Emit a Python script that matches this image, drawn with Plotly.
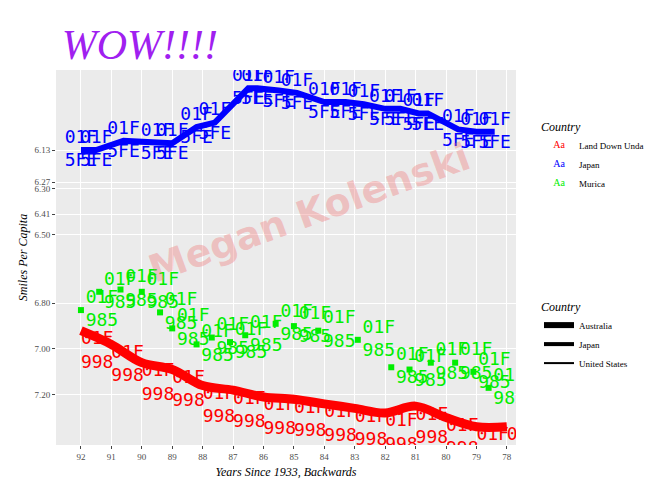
import plotly.graph_objects as go

years_jp = [92, 91.5, 90.6, 89.5, 89, 88.2, 87.6, 86.5, 86.2, 85.5, 84.9, 84, 83.3, 82.7, 82, 81.5, 80.9, 80.6, 79.6, 79, 78.4]
japan = [6.13, 6.13, 6.09, 6.10, 6.10, 6.03, 6.01, 5.86, 5.86, 5.87, 5.88, 5.92, 5.92, 5.93, 5.95, 5.95, 5.97, 5.97, 6.04, 6.05, 6.05]
years_au = [92, 91, 90, 89, 88, 87, 86, 85, 84, 83, 82, 81, 80, 79, 78]
aus = [6.92, 6.98, 7.06, 7.09, 7.16, 7.18, 7.21, 7.22, 7.24, 7.26, 7.28, 7.25, 7.30, 7.34, 7.34]
years_us = [92, 91.4, 90.7, 90, 89.4, 89, 88.2, 87.7, 87.1, 86.6, 85.6, 85, 84.2, 82.9, 81.8, 81.2, 80.5, 79.7, 79.1, 78.6]
usa = [6.83, 6.75, 6.74, 6.75, 6.84, 6.91, 6.98, 6.95, 6.97, 6.94, 6.89, 6.90, 6.92, 6.96, 7.08, 7.09, 7.06, 7.06, 7.10, 7.17]
y_ticks = [6.13, 6.27, 6.30, 6.41, 6.50, 6.80, 7.00, 7.20]
x_ticks = list(range(78, 93))

font = "Liberation Serif"
mono = "DejaVu Sans Mono"
fig = go.Figure()
fig.add_trace(go.Scatter(x=years_jp, y=japan, mode="lines+text", line=dict(color="#0000FF", width=6),
                         text=["01F<br>5FE"] * len(japan), textfont=dict(family=mono, size=18, color="#0000FF"),
                         textposition="middle center", showlegend=False))
fig.add_trace(go.Scatter(x=years_us, y=usa, mode="markers+text", marker=dict(color="#00EE00", size=6, symbol="square"),
                         text=["01F<br>985"] * len(usa), textfont=dict(family=mono, size=18, color="#00EE00"),
                         textposition="middle right", showlegend=False))
fig.add_trace(go.Scatter(x=years_au, y=aus, mode="lines+text", line=dict(color="#FF0000", width=9, shape="spline"),
                         text=["01F<br>998"] * len(aus), textfont=dict(family=mono, size=18, color="#FF0000"),
                         textposition="bottom right", showlegend=False))
for name, c in [("Land Down Unda", "#FF0000"), ("Japan", "#0000FF"), ("Murica", "#00EE00")]:
    fig.add_trace(go.Scatter(x=[None], y=[None], mode="text", text=["a"], textfont=dict(color=c, size=20),
                             name=name, legend="legend"))
for name, w in [("Australia", 6), ("Japan", 4), ("United States", 2)]:
    fig.add_trace(go.Scatter(x=[None], y=[None], mode="lines", line=dict(color="black", width=w),
                             name=name, legend="legend2"))

fig.update_layout(
    width=672, height=480, paper_bgcolor="white", plot_bgcolor="#EBEBEB",
    margin=dict(l=48, r=164, t=62, b=43),
    font=dict(family=font, color="#4D4D4D"),
    title=dict(text="<i>WOW!!!!</i>", font=dict(size=42, color="#A020F0", family=font), x=0.08, y=0.955, xanchor="left"),
    xaxis=dict(range=[92.82, 77.7], tickvals=x_ticks, ticktext=[str(t) for t in x_ticks], gridcolor="white",
               showgrid=True, zeroline=False, ticks="outside", ticklen=3, tickfont=dict(size=9, color="#4D4D4D"),
               automargin=False, title=dict(text="<i>Years Since 1933, Backwards</i>", standoff=6,
                                            font=dict(size=12, color="black"))),
    yaxis=dict(range=[7.42, 5.78], tickvals=y_ticks, ticktext=["%.2f" % t for t in y_ticks], gridcolor="white",
               zeroline=False, ticks="outside", ticklen=3, tickfont=dict(size=9, color="#4D4D4D"),
               automargin=False, title=dict(text="<i>Smiles Per Capita</i>", standoff=4,
                                            font=dict(size=12, color="black"))),
    legend=dict(title=dict(text="<i>Country</i>", font=dict(size=12, color="black")), x=1.05, y=0.88, yanchor="top",
                bgcolor="white", font=dict(size=9, color="black"), itemsizing="constant"),
    legend2=dict(title=dict(text="<i>Country</i>", font=dict(size=12, color="black")), x=1.05, y=0.40, yanchor="top",
                 bgcolor="white", font=dict(size=9, color="black")),
    annotations=[dict(text="<b>Megan Kolenski</b>", x=0.55, y=0.62, xref="paper", yref="paper", showarrow=False,
                      textangle=-20, font=dict(family="DejaVu Sans", size=38, color="rgba(240,110,110,0.35)"))],
)
fig.write_html("out.html")
